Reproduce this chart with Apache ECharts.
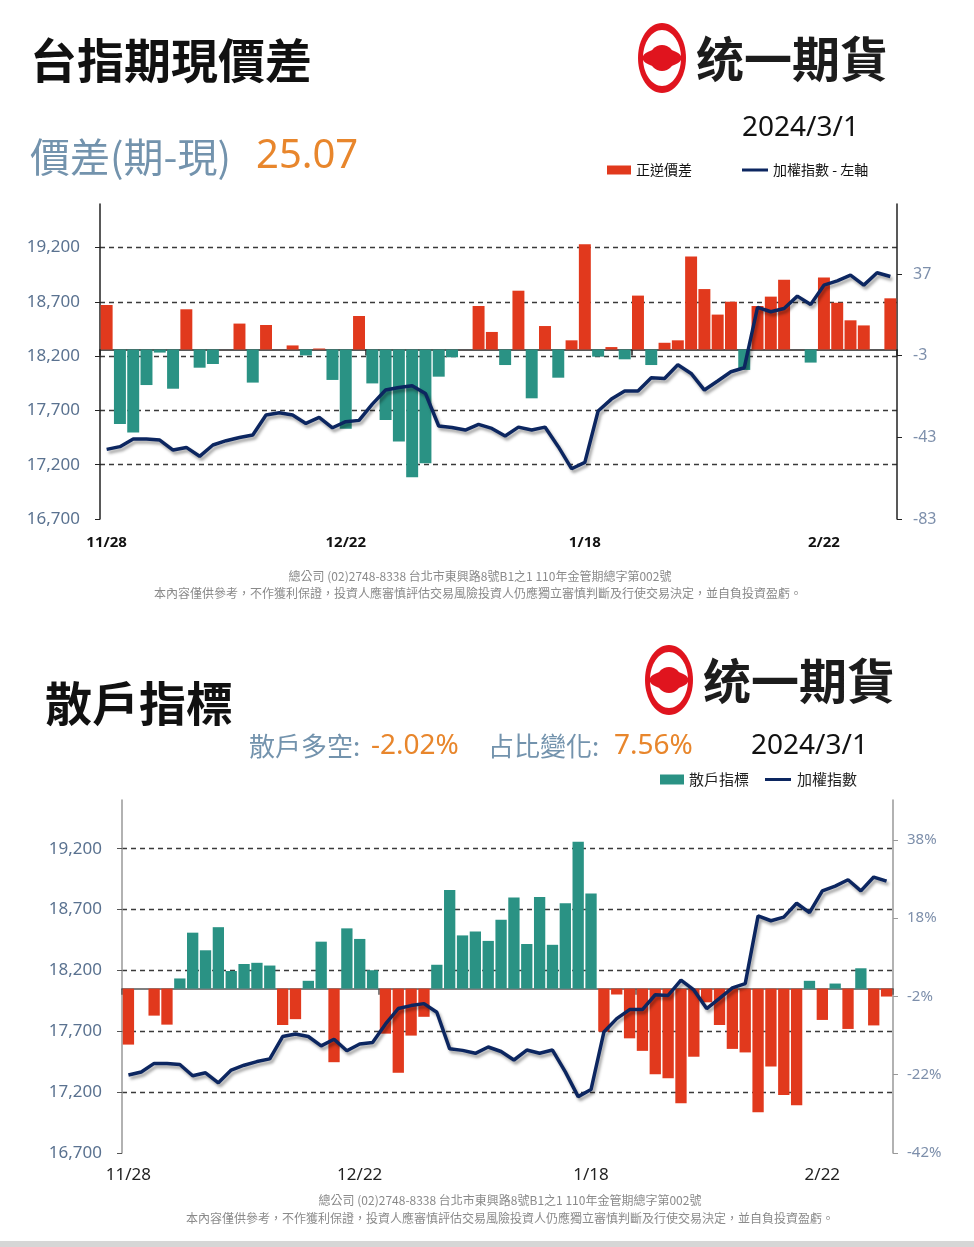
<!DOCTYPE html>
<html>
<head>
<meta charset="utf-8">
<script src="https://cdn.jsdelivr.net/npm/echarts@6/dist/echarts.min.js"></script>
<style>
html,body{margin:0;padding:0;background:#fff;}
#c{width:974px;height:1247px;}
</style>
</head>
<body>
<div id="c"></div>
<script>
// ---- data ----
const dates = ['11/28','11/29','11/30','12/1','12/4','12/5','12/6','12/7','12/8','12/11','12/12','12/13','12/14','12/15','12/18','12/19','12/20','12/21','12/22','12/25','12/26','12/27','12/28','12/29','1/2','1/3','1/4','1/5','1/8','1/9','1/10','1/11','1/12','1/15','1/16','1/17','1/18','1/19','1/22','1/23','1/24','1/25','1/26','1/29','1/30','1/31','2/1','2/2','2/5','2/15','2/16','2/19','2/20','2/21','2/22','2/23','2/26','2/27','2/29','3/1'];
const basis = [21.8,-36.5,-40.7,-17.4,-1.5,-19.2,19.7,-8.9,-7.1,0,12.7,-16.2,12.0,0,2.0,-2.9,0.5,-14.9,-38.8,16.4,-16.6,-34.5,-45.1,-62.6,-55.7,-13.3,-3.8,0,21.3,8.6,-7.6,28.8,-23.9,11.5,-13.8,4.5,51.5,-3.5,1.2,-4.8,26.4,-7.6,3.3,4.5,45.5,29.6,17.1,23.4,-10.0,21.3,25.9,34.2,0,-6.4,35.3,22.9,14.3,11.8,0,25.07];
const taiex = [17341,17366,17436,17436,17427,17335,17359,17277,17381,17421,17451,17473,17657,17678,17657,17580,17635,17540,17596,17608,17758,17887,17911,17927,17856,17556,17543,17519,17571,17534,17464,17546,17519,17546,17366,17163,17221,17694,17804,17878,17878,18000,17994,18120,18040,17887,17970,18056,18092,18648,18608,18638,18752,18675,18853,18893,18945,18853,18967,18933];
const retail = [-14.3,0,-6.9,-9.2,2.6,14.3,9.8,15.7,4.5,6.3,6.6,5.9,-9.3,-7.8,2.0,12.0,-18.8,15.4,12.7,4.7,-11.5,-21.5,-12.0,-7.2,6.1,25.2,13.6,14.6,12.2,17.6,23.3,11.4,23.4,11.2,21.8,37.5,24.3,-11.0,-1.5,-12.7,-15.9,-21.9,-22.9,-29.3,-17.4,-3.5,-9.3,-15.4,-16.3,-31.6,-19.9,-27.2,-29.8,2.0,-8.0,1.3,-10.3,5.2,-9.4,-2.02];
const basisLast = '25.07';
const retailLast = '-2.02%';
const ratioChange = '7.56%';
const dateText = '2024/3/1';
const footer1 = '總公司 (02)2748-8338 台北市東興路8號B1之1 110年金管期總字第002號';
const footer2 = '本內容僅供參考，不作獲利保證，投資人應審慎評估交易風險投資人仍應獨立審慎判斷及行使交易決定，並自負投資盈虧。';

// ---- styles ----
const RED = '#e1391d', TEAL = '#2a9284', NAVY = '#0c2660';
const STEEL = '#7393ad', ORANGE = '#e8862c', LBL = '#5a7290', RLBL = '#7d8fab';
const CJK = '"Noto Sans CJK TC", "Noto Sans", sans-serif';
const LAT = '"Noto Sans", "Noto Sans CJK TC", sans-serif';
const fmtK = v => Math.round(v).toLocaleString('en-US');

const chart = echarts.init(document.getElementById('c'), null, {renderer: 'canvas'});

function logo(cx, cy) {
  return [
    {type:'ellipse', shape:{cx:cx, cy:cy, rx:24, ry:35}, style:{fill:'#e0141e'}},
    {type:'ellipse', shape:{cx:cx, cy:cy, rx:19, ry:28}, style:{fill:'#fff'}},
    {type:'ellipse', shape:{cx:cx, cy:cy, rx:19.5, ry:9}, style:{fill:'#e0141e'}},
    {type:'ellipse', shape:{cx:cx, cy:cy, rx:12.5, ry:13}, style:{fill:'#e0141e'}},
    {type:'text', x:cx+34, y:cy+1, style:{text:'统一期貨', font:'bold 48px ' + CJK, fill:'#1c1c1c', textVerticalAlign:'middle', verticalAlign:'middle'}}
  ];
}
function txt(x, y, text, font, fill, align) {
  return {type:'text', x:x, y:y, style:{text:text, font:font, fill:fill, textAlign:align||'left', align:align||'left', textVerticalAlign:'middle', verticalAlign:'middle'}};
}

const dashed = {show:true, showMinLine:false, showMaxLine:false, lineStyle:{color:'#3a3a3a', type:[5,4], width:1.3}};
const lineIcon = 'path://M0,0 L26,0 L26,3 L0,3 Z';

const option = {
  animation: false,
  backgroundColor: '#fff',
  grid: [
    {left:100, top:204, width:797, height:315},
    {left:122, top:800, width:771, height:353}
  ],
  xAxis: [
    {type:'category', gridIndex:0, data:dates, boundaryGap:true,
     axisLine:{lineStyle:{color:'#222', width:1.5}},
     axisTick:{show:true, interval:19, length:6, lineStyle:{color:'#222', width:1.5}},
     axisLabel:{interval:17, color:'#111', fontSize:15, fontWeight:'bold', margin:16, fontFamily:LAT}},
    {type:'category', gridIndex:1, data:dates, boundaryGap:true,
     axisLine:{lineStyle:{color:'#555', width:1.5}},
     axisTick:{show:true, interval:19, length:6, lineStyle:{color:'#555', width:1.5}},
     axisLabel:{interval:17, color:'#222', fontSize:17, margin:14, fontFamily:LAT}}
  ],
  yAxis: [
    {type:'value', gridIndex:0, position:'left', min:16700, max:19600, interval:500,
     axisLine:{show:true, lineStyle:{color:'#222', width:1.5}},
     axisTick:{show:true, length:5, lineStyle:{color:'#222'}},
     axisLabel:{color:LBL, fontSize:17, margin:20, fontFamily:LAT, showMaxLabel:false, formatter:fmtK},
     splitLine:dashed},
    {type:'value', gridIndex:0, position:'right', min:-83, max:71.26, interval:40,
     axisLine:{show:true, lineStyle:{color:'#222', width:1.5}},
     axisTick:{show:true, length:5, lineStyle:{color:'#222'}},
     axisLabel:{color:RLBL, fontSize:16, margin:16, fontFamily:LAT, showMaxLabel:false},
     splitLine:{show:false}},
    {type:'value', gridIndex:1, position:'left', min:16700, max:19600, interval:500,
     axisLine:{show:true, lineStyle:{color:'#999', width:1.5}},
     axisTick:{show:true, length:5, lineStyle:{color:'#555'}},
     axisLabel:{color:LBL, fontSize:17, margin:20, fontFamily:LAT, showMaxLabel:false, formatter:fmtK},
     splitLine:dashed},
    {type:'value', gridIndex:1, position:'right', min:-42, max:48.2, interval:20,
     axisLine:{show:true, lineStyle:{color:'#999', width:1.5}},
     axisTick:{show:true, length:5, lineStyle:{color:'#999'}},
     axisLabel:{color:RLBL, fontSize:15, margin:14, fontFamily:LAT, showMaxLabel:false, formatter: v => Math.round(v) + '%'},
     splitLine:{show:false}}
  ],
  legend: [
    {data:['正逆價差'], left:607, top:163, padding:0, icon:'rect', itemWidth:24, itemHeight:9, textStyle:{fontSize:14, color:'#111', fontFamily:CJK}},
    {data:[{name:'加權指數 - 左軸', icon:lineIcon}], left:742, top:163, padding:0, itemWidth:26, itemHeight:3, textStyle:{fontSize:14, color:'#111', fontFamily:CJK}},
    {data:['散戶指標'], left:660, top:772, padding:0, icon:'rect', itemWidth:24, itemHeight:10, textStyle:{fontSize:15, color:'#222', fontFamily:CJK}},
    {data:[{name:'加權指數', icon:lineIcon}], left:765, top:772, padding:0, itemWidth:28, itemHeight:3, textStyle:{fontSize:15, color:'#222', fontFamily:CJK}}
  ],
  series: [
    {name:'正逆價差', type:'bar', xAxisIndex:0, yAxisIndex:1, barCategoryGap:'10%',
     itemStyle:{color:RED},
     data: basis.map(v => ({value:v, itemStyle:{color: v < 0 ? TEAL : RED}}))},
    {name:'加權指數 - 左軸', type:'line', xAxisIndex:0, yAxisIndex:0, data:taiex, symbol:'none', z:5,
     itemStyle:{color:NAVY},
     lineStyle:{color:NAVY, width:3.5, shadowColor:'rgba(0,0,0,0.35)', shadowBlur:3, shadowOffsetX:2, shadowOffsetY:3}},
    {name:'散戶指標', type:'bar', xAxisIndex:1, yAxisIndex:3, barCategoryGap:'12%',
     itemStyle:{color:TEAL},
     data: retail.map(v => ({value:v, itemStyle:{color: v < 0 ? RED : TEAL}}))},
    {name:'加權指數', type:'line', xAxisIndex:1, yAxisIndex:2, data:taiex, symbol:'none', z:5,
     itemStyle:{color:NAVY},
     lineStyle:{color:NAVY, width:3.5, shadowColor:'rgba(0,0,0,0.35)', shadowBlur:3, shadowOffsetX:2, shadowOffsetY:3}}
  ],
  graphic: [].concat(
    [txt(30, 60, '台指期現價差', 'bold 47px ' + CJK, '#111')],
    logo(662, 58),
    [
      txt(742, 128, dateText, '28px ' + LAT, '#111'),
      txt(30, 157, '價差(期-現)', '40px ' + CJK, STEEL),
      txt(256, 157, basisLast, '40px ' + LAT, ORANGE),
      txt(480, 576, footer1, '12px ' + CJK, '#8a8a8a', 'center'),
      txt(478, 593, footer2, '12px ' + CJK, '#8a8a8a', 'center'),
      txt(45, 703, '散戶指標', 'bold 47px ' + CJK, '#111')
    ],
    logo(669, 680),
    [
      txt(249, 746, '散戶多空:', '26px ' + CJK, STEEL),
      txt(371, 746, retailLast, '28px ' + LAT, ORANGE),
      txt(488, 746, '占比變化:', '26px ' + CJK, STEEL),
      txt(614, 746, ratioChange, '28px ' + LAT, ORANGE),
      txt(751, 746, dateText, '28px ' + LAT, '#111'),
      txt(510, 1200, footer1, '12px ' + CJK, '#8a8a8a', 'center'),
      txt(510, 1218, footer2, '12px ' + CJK, '#8a8a8a', 'center'),
      {type:'rect', shape:{x:0, y:1241, width:974, height:6}, style:{fill:'#d6d6d6'}}
    ]
  )
};
chart.setOption(option);
</script>
</body>
</html>
